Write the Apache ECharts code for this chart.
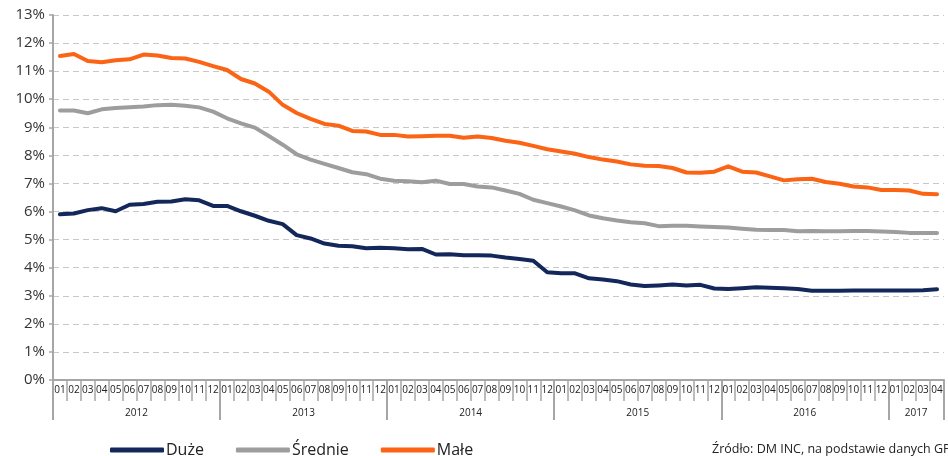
<!DOCTYPE html>
<html>
<head>
<meta charset="utf-8">
<script src="https://cdn.jsdelivr.net/npm/echarts@6/dist/echarts.min.js"></script>
<style>html,body{margin:0;padding:0;background:#fff}#c{width:948px;height:456px}</style>
</head>
<body>
<div id="c"></div>
<script>
const years = ['2012','2013','2014','2015','2016','2017'];
const monthsPerYear = [12,12,12,12,12,4];
const yTicks = {min:0, max:13, step:1};
const seriesNames = ['Duże','Średnie','Małe'];
const duze = [5.90,5.93,6.05,6.12,6.01,6.24,6.27,6.35,6.36,6.44,6.40,6.20,
  6.20,6.01,5.85,5.67,5.55,5.16,5.04,4.86,4.78,4.76,4.69,4.71,
  4.69,4.66,4.67,4.47,4.48,4.44,4.44,4.43,4.36,4.31,4.25,3.84,
  3.80,3.80,3.62,3.58,3.52,3.40,3.35,3.37,3.40,3.37,3.39,3.26,
  3.24,3.27,3.30,3.29,3.27,3.24,3.18,3.18,3.18,3.19,3.19,3.19,
  3.19,3.19,3.20,3.23];
const srednie = [9.60,9.60,9.50,9.64,9.69,9.71,9.74,9.79,9.80,9.77,9.71,9.56,
  9.32,9.14,8.99,8.69,8.38,8.04,7.85,7.70,7.55,7.40,7.33,7.17,
  7.10,7.08,7.04,7.10,6.98,6.98,6.89,6.86,6.75,6.63,6.42,6.30,
  6.18,6.04,5.86,5.76,5.68,5.62,5.58,5.48,5.49,5.49,5.47,5.45,
  5.43,5.39,5.35,5.34,5.34,5.30,5.31,5.30,5.30,5.31,5.31,5.29,
  5.27,5.24,5.24,5.24];
const male = [11.54,11.61,11.36,11.32,11.39,11.42,11.59,11.56,11.47,11.45,11.33,11.18,
  11.04,10.72,10.56,10.27,9.80,9.51,9.30,9.12,9.06,8.87,8.85,8.73,
  8.73,8.67,8.68,8.70,8.70,8.63,8.67,8.62,8.52,8.45,8.34,8.22,
  8.14,8.06,7.94,7.85,7.78,7.68,7.63,7.62,7.55,7.39,7.38,7.42,
  7.61,7.42,7.39,7.25,7.11,7.15,7.17,7.05,6.99,6.89,6.86,6.77,
  6.77,6.75,6.63,6.62];
const sourceText = 'Źródło: DM INC, na podstawie danych GPW';

// month categories
const categories = [];
years.forEach((y, yi) => {
  for (let m = 1; m <= monthsPerYear[yi]; m++) categories.push(y + '-' + String(m).padStart(2, '0'));
});
// year axis: boundary points 0..N, label at the middle of each year
const total = categories.length;
const yearAxisData = new Array(total + 1).fill('');
const boundaries = [0];
let acc = 0;
years.forEach((y, yi) => {
  yearAxisData[acc + monthsPerYear[yi] / 2] = y;
  acc += monthsPerYear[yi];
  boundaries.push(acc);
});

const axisGray = '#a6a6a6';
const font = 'Open Sans';
const colors = ['#13275a', '#9d9d9d', '#fa6414'];

const chart = echarts.init(document.getElementById('c'), null, {renderer: 'canvas'});
chart.setOption({
  animation: false,
  textStyle: {fontFamily: font},
  grid: {left: 53, right: 4, top: 15, bottom: 76, containLabel: false},
  title: {
    text: sourceText, left: 707, top: 438,
    textStyle: {fontFamily: font, fontSize: 12.5, fontWeight: 'normal', color: '#222'}
  },
  legend: {
    left: 105, top: 437, itemWidth: 54, itemHeight: 5, itemGap: 32,
    icon: 'roundRect',
    textStyle: {fontFamily: font, fontSize: 16, color: '#222', padding: [0, 0, 0, -3]},
    data: seriesNames
  },
  xAxis: [{
    type: 'category', data: categories, boundaryGap: true,
    axisLine: {lineStyle: {color: axisGray, width: 2}},
    axisTick: {show: true, interval: 0, length: 21, lineStyle: {color: axisGray, width: 1.5}},
    axisLabel: {interval: 0, margin: 5, fontSize: 10, color: '#222', fontFamily: font,
      formatter: v => v.slice(5)},
    splitLine: {show: false}
  }, {
    type: 'category', data: yearAxisData, boundaryGap: false, position: 'bottom',
    axisLine: {show: false},
    axisTick: {show: true, length: 40, interval: (i) => boundaries.indexOf(i) >= 0,
      lineStyle: {color: axisGray, width: 2}},
    axisLabel: {interval: (i, v) => v !== '', margin: 28, fontSize: 10, color: '#222', fontFamily: font},
    splitLine: {show: false}
  }],
  yAxis: {
    type: 'value', min: yTicks.min, max: yTicks.max, interval: yTicks.step,
    axisLine: {show: true, lineStyle: {color: axisGray, width: 2}},
    axisTick: {show: true, length: 4, lineStyle: {color: axisGray, width: 1.5}},
    axisLabel: {formatter: '{value}%', fontSize: 15, color: '#333', margin: 8, fontFamily: font},
    splitLine: {lineStyle: {color: '#c8c8c8', type: [6, 4], width: 1}}
  },
  series: [duze, srednie, male].map((d, i) => ({
    name: seriesNames[i], type: 'line', data: d, xAxisIndex: 0,
    showSymbol: false, symbol: 'none',
    itemStyle: {color: colors[i]},
    lineStyle: {color: colors[i], width: 4, cap: 'round', join: 'round'}
  }))
});
</script>
</body>
</html>
